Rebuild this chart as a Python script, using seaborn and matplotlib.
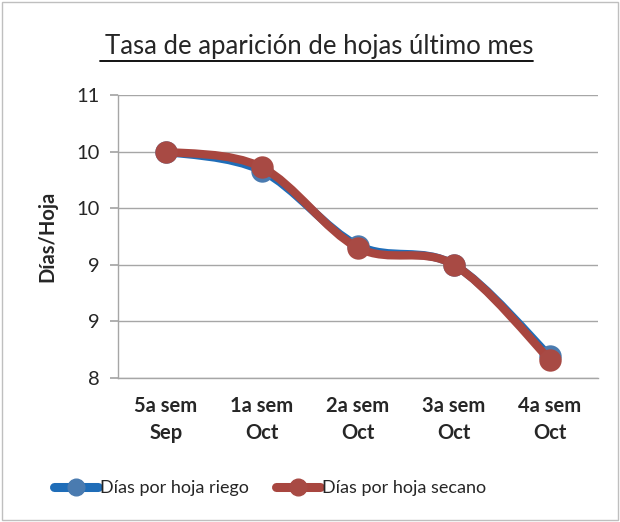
import numpy as np
import pandas as pd
import seaborn as sns
import matplotlib.pyplot as plt
from matplotlib.path import Path
from matplotlib.patches import PathPatch, Rectangle
from matplotlib.lines import Line2D

semanas = ["5a sem\nSep", "1a sem\nOct", "2a sem\nOct", "3a sem\nOct", "4a sem\nOct"]
riego = [10.0, 9.83, 9.17, 9.0, 8.19]
secano = [10.0, 9.86, 9.15, 9.0, 8.16]
y_ticks = [8, 8.5, 9, 9.5, 10, 10.5]
y_labels = ["8", "9", "9", "10", "10", "11"]

sns.set_theme(style="white")
plt.rcParams['font.family'] = ['Lato', 'DejaVu Sans']

df = pd.DataFrame({"x": np.arange(len(semanas)), "riego": riego, "secano": secano})

fig = plt.figure(figsize=(6.2, 5.22), dpi=100)
ax = fig.add_axes([0.1903, 0.2759, 0.7742, 0.5421])

# marco exterior
fig.patches.append(Rectangle((0.004, 0.004), 0.992, 0.992, transform=fig.transFigure,
                             fill=False, edgecolor="#BFBFBF", linewidth=1))


def curva(xs, ys):
    # linea suavizada tipo Excel (Catmull-Rom -> Bezier)
    p = np.column_stack([xs, ys]).astype(float)
    ext = np.vstack([p[0], p, p[-1]])
    verts = [p[0]]
    codes = [Path.MOVETO]
    for i in range(len(p) - 1):
        c1 = ext[i + 1] + (ext[i + 2] - ext[i]) / 6
        c2 = ext[i + 2] - (ext[i + 3] - ext[i + 1]) / 6
        verts += [c1, c2, ext[i + 2]]
        codes += [Path.CURVE4] * 3
    return Path(verts, codes)


azul_l, azul_m = "#1F6DB8", "#4A7BB0"
rojo_l, rojo_m = "#A8463F", "#A84A44"

ax.add_patch(PathPatch(curva(df["x"], df["riego"]), fill=False, edgecolor=azul_l,
                       linewidth=6, capstyle="round", joinstyle="round", zorder=3))
sns.scatterplot(data=df, x="x", y="riego", ax=ax, color=azul_m, s=260,
                edgecolor=azul_m, linewidth=0, zorder=4)
ax.add_patch(PathPatch(curva(df["x"], df["secano"]), fill=False, edgecolor=rojo_l,
                       linewidth=6, capstyle="round", joinstyle="round", zorder=5))
sns.scatterplot(data=df, x="x", y="secano", ax=ax, color=rojo_m, s=260,
                edgecolor=rojo_m, linewidth=0, zorder=6)

ax.set_xlim(-0.5, 4.5)
ax.set_ylim(8, 10.5)
ax.set_yticks(y_ticks)
ax.set_yticklabels(y_labels, fontsize=14.5)
ax.set_xticks(np.arange(len(semanas)))
ax.set_xticklabels(semanas, fontsize=14.5, fontweight="bold", linespacing=1.45)
ax.set_xticks(np.arange(-0.5, 5, 1), minor=True)
ax.tick_params(axis="x", which="major", length=0, pad=13)
ax.tick_params(axis="x", which="minor", length=6, color="#A6A6A6", direction="out")
ax.tick_params(axis="y", length=6, color="#A6A6A6", direction="out", left=True, pad=7)
ax.grid(axis="y", color="#A6A6A6", linewidth=1)
for s in ["top", "right"]:
    ax.spines[s].set_visible(False)
for s in ["left", "bottom"]:
    ax.spines[s].set_color("#A6A6A6")
    ax.spines[s].set_linewidth(1)
ax.set_xlabel("")
ax.set_ylabel("Días/Hoja", fontsize=14.5, fontweight="bold", labelpad=14)

fig.text(0.5145, 0.91, "Tasa de aparición de hojas último mes", ha="center", va="center",
         fontsize=18.5)
fig.add_artist(Line2D([0.161, 0.860], [0.883, 0.883], transform=fig.transFigure,
                      color="black", linewidth=1.3))

handles = [Line2D([], [], color=azul_l, linewidth=6.5, marker="o", markersize=12,
                  markerfacecolor=azul_m, markeredgecolor=azul_m, solid_capstyle="round"),
           Line2D([], [], color=rojo_l, linewidth=6.5, marker="o", markersize=12,
                  markerfacecolor=rojo_m, markeredgecolor=rojo_m, solid_capstyle="round")]
fig.legend(handles, ["Días por hoja riego", "Días por hoja secano"], loc="center",
           bbox_to_anchor=(0.436, 0.065), ncol=2, frameon=False, fontsize=13,
           handlelength=2.4, handletextpad=0.15, columnspacing=1.5)

plt.savefig("out.png", dpi=100)
